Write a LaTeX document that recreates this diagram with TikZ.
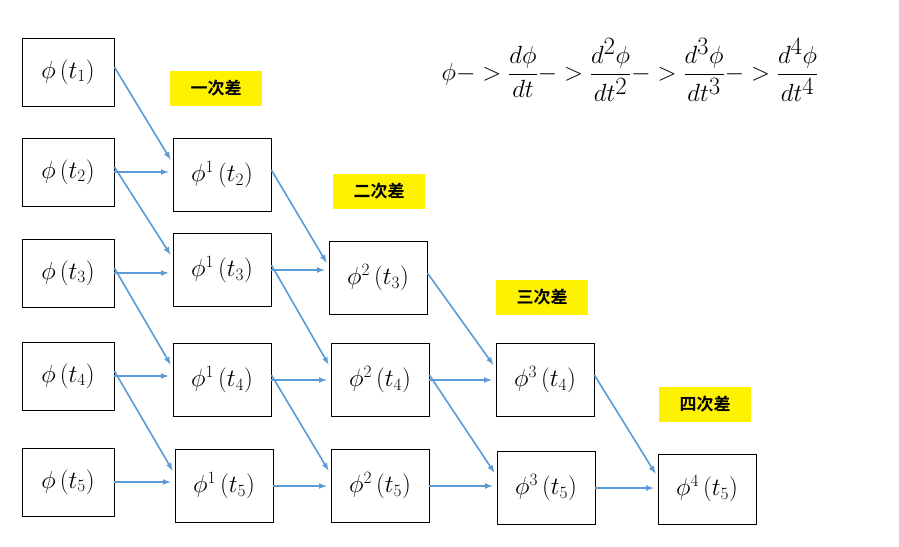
\documentclass[tikz,border=0pt]{standalone}
\usepackage{amsmath}
\usepackage{fontspec}
\newfontfamily\cjk{Noto Sans CJK SC}[BoldFont=* Bold]
\definecolor{arrowblue}{RGB}{91,155,213}
\begin{document}
\begin{tikzpicture}[x=1pt,y=-1pt,
    box/.style={draw,thick,minimum width=98pt,minimum height=73pt,inner sep=0pt,
      font=\fontsize{25}{30}\selectfont},
    sbox/.style={box,minimum width=92pt,minimum height=68pt},
    lab/.style={fill=yellow,minimum width=92pt,minimum height=35pt,inner sep=0pt,
      font=\cjk\bfseries\fontsize{17}{20}\selectfont},
    arr/.style={-latex,line width=1.6pt,arrowblue,shorten >=4pt}]
\useasboundingbox (0,0) rectangle (899,546);
% column 0
\node[sbox] (a1) at (68,72) {$\phi\left(t_{1}\right)$};
\node[sbox] (a2) at (68,172) {$\phi\left(t_{2}\right)$};
\node[sbox] (a3) at (68,273) {$\phi\left(t_{3}\right)$};
\node[sbox] (a4) at (68,376) {$\phi\left(t_{4}\right)$};
\node[sbox] (a5) at (68,482) {$\phi\left(t_{5}\right)$};
% column 1
\node[box] (b2) at (222,175) {$\phi^{1}\left(t_{2}\right)$};
\node[box] (b3) at (222,270) {$\phi^{1}\left(t_{3}\right)$};
\node[box] (b4) at (222,380) {$\phi^{1}\left(t_{4}\right)$};
\node[box] (b5) at (224,486) {$\phi^{1}\left(t_{5}\right)$};
% column 2
\node[box] (c3) at (378,278) {$\phi^{2}\left(t_{3}\right)$};
\node[box] (c4) at (380,380) {$\phi^{2}\left(t_{4}\right)$};
\node[box] (c5) at (380,486) {$\phi^{2}\left(t_{5}\right)$};
% column 3
\node[box] (d4) at (545,380) {$\phi^{3}\left(t_{4}\right)$};
\node[box] (d5) at (546,488) {$\phi^{3}\left(t_{5}\right)$};
% column 4
\node[box,minimum height=70pt] (e5) at (707,489) {$\phi^{4}\left(t_{5}\right)$};
% labels
\node[lab] (l1) at (216,88) {一次差};
\node[lab] (l2) at (379,191) {二次差};
\node[lab] (l3) at (542,297) {三次差};
\node[lab] (l4) at (705,404) {四次差};
\node[font=\fontsize{36}{42}\selectfont] (f) at (630,70)
  {$\phi - > \dfrac{d\phi}{dt} - > \dfrac{d^{2}\phi}{dt^{2}} - > \dfrac{d^{3}\phi}{dt^{3}} - > \dfrac{d^{4}\phi}{dt^{4}}$};
% arrows
\foreach \s/\t/\n in {a1/b2/a2,a2/b3/a3,a3/b4/a4,a4/b5/a5,
                      b2/c3/b3,b3/c4/b4,b4/c5/b5,
                      c3/d4/c4,c4/d5/c5,d4/e5/d5}{
  \draw[arr] ([yshift=5pt]\s.east) -- ([yshift=12pt]\t.west);
}
\foreach \s/\t in {a2/b2,a3/b3,a4/b4,a5/b5,b3/c3,b4/c4,b5/c5,c4/d4,c5/d5,d5/e5}{
  \draw[arr] (\s.east) -- (\s.east -| \t.west);
}
\end{tikzpicture}
\end{document}
